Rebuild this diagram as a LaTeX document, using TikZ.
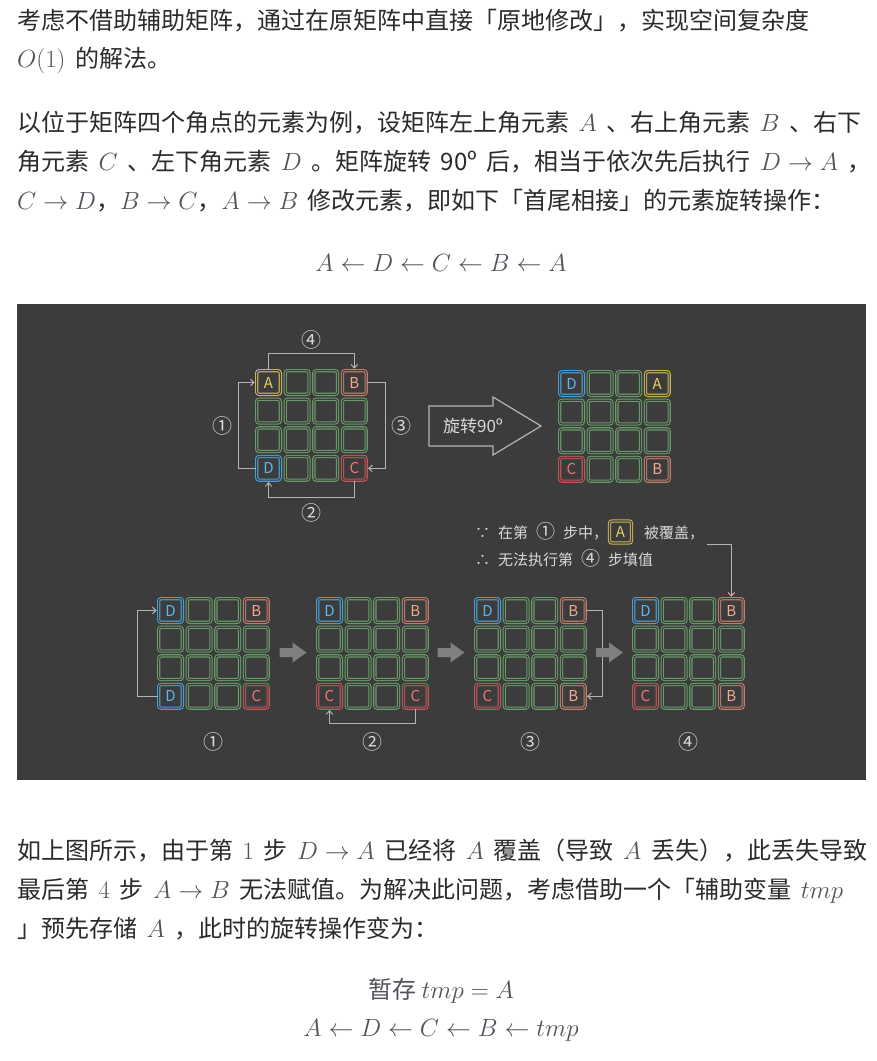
\documentclass[tikz,border=0pt]{standalone}
\usepackage[no-math]{fontspec}
\setmainfont{Noto Sans CJK SC}
\usetikzlibrary{arrows.meta}
\definecolor{panel}{HTML}{3C3C3C}
\definecolor{cgreen}{HTML}{6A9C6A}
\definecolor{cyel}{HTML}{C9B557}
\definecolor{tyel}{HTML}{E6D065}
\definecolor{cbb}{HTML}{C0806E}
\definecolor{tbb}{HTML}{F5A88E}
\definecolor{ccc}{HTML}{C35757}
\definecolor{tcc}{HTML}{F27474}
\definecolor{cdd}{HTML}{4A9ED0}
\definecolor{tdd}{HTML}{5DB8F0}
\definecolor{lcol}{HTML}{B4B4B4}
\definecolor{dtxt}{HTML}{D8D8D8}
\definecolor{garr}{HTML}{808080}
\definecolor{ptxt}{HTML}{2B2B2B}
\definecolor{mathc}{HTML}{52525C}
\newcommand\mth[1]{\textcolor{mathc}{$#1$}}
\newcommand\cnum[1]{{\fontsize{19}{19}\selectfont #1}}
\newcommand\pfont{\fontsize{24}{30}\selectfont\spaceskip 9.5pt\relax}
\newcommand\dfont{\fontsize{15}{15}\selectfont\spaceskip 8pt\relax}
\tikzset{
  cell/.style={draw=cgreen, double=panel, double distance=1.1pt, line width=1.1pt,
    fill=panel, rounded corners=2.5pt, minimum size=23.7pt, inner sep=0pt,
    font=\fontsize{15}{15}\selectfont},
  cellA/.style={draw=cyel, text=tyel},
  cellB/.style={draw=cbb, text=tbb},
  cellC/.style={draw=ccc, text=tcc},
  cellD/.style={draw=cdd, text=tdd},
  conn/.style={draw=lcol, line width=1pt, shorten >=1.4pt,
    -{Straight Barb[length=3.5pt,width=6.5pt]}},
  num/.style={text=dtxt, inner sep=0pt, font=\fontsize{20}{20}\selectfont},
  dtext/.style={text=dtxt, inner sep=0pt, anchor=base west, font=\dfont},
  ptext/.style={text=ptxt, inner sep=0pt, anchor=base west, font=\pfont},
  peq/.style={text=mathc, inner sep=0pt, anchor=base, font=\fontsize{24}{30}\selectfont},
  garrow/.style={fill=garr},
}
\newcommand\mygrid[7]{%
  \foreach \rr in {0,...,3}{\foreach \cc in {0,...,3}{%
    \pgfmathtruncatemacro\iscorner{and(or(\rr==0,\rr==3),or(\cc==0,\cc==3))}%
    \ifnum\iscorner=0
      \node[cell] (#1-\rr\cc) at ({#2+13.5+28.6*\cc},{#3+13.5+28.6*\rr}) {};
    \fi
  }}%
  \node[cell,cell#4] (#1-00) at ({#2+13.5},{#3+13.5}) {#4};
  \node[cell,cell#5] (#1-03) at ({#2+99.3},{#3+13.5}) {#5};
  \node[cell,cell#6] (#1-30) at ({#2+13.5},{#3+99.3}) {#6};
  \node[cell,cell#7] (#1-33) at ({#2+99.3},{#3+99.3}) {#7};
}
\newcommand\grayarrow[1]{%
  \fill[garrow] (#1,648) -- ({#1+13},648) -- ({#1+13},642.5) -- ({#1+27},652.5)
    -- ({#1+13},662.5) -- ({#1+13},657) -- (#1,657) -- cycle;}
\begin{document}
\begin{tikzpicture}[x=1pt,y=-1pt]
\useasboundingbox (0,0) rectangle (877,1061);
\fill[white] (0,0) rectangle (877,1061);

% ---- top text ----
\node[ptext] (l1) at (17,29) {考虑不借助辅助矩阵，通过在原矩阵中直接「原地修改」，实现空间复杂度};
\node[ptext] (l2) at (17,67) {\mth{O(1)} 的解法。};
\node[ptext] (l3) at (17,131) {以位于矩阵四个角点的元素为例，设矩阵左上角元素 \mth{A} 、右上角元素 \mth{B} 、右下};
\node[ptext] (l4) at (17,170) {角元素 \mth{C} 、左下角元素 \mth{D} 。矩阵旋转 90º 后，相当于依次先后执行 \mth{D \to A} ，};
\node[ptext] (l5) at (17,209) {\mth{C \to D}，\mth{B \to C}，\mth{A \to B} 修改元素，即如下「首尾相接」的元素旋转操作：};
\node[peq] (eq1) at (441,271.5) {$A \leftarrow D \leftarrow C \leftarrow B \leftarrow A$};

% ---- panel ----
\fill[panel] (17,304) rectangle (866,780);

% top-left grid
\mygrid{g0}{255}{369}{A}{B}{D}{C}
\draw[conn] (g0-00.north) -- ++(0,-16.5) -| (g0-03.north);
\draw[conn] (g0-30.west) -- ++(-17.5,0) |- (g0-00.west);
\draw[conn] (g0-03.east) -- ++(18.5,0) |- (g0-33.east);
\draw[conn] (g0-33.south) -- ++(0,17) -| (g0-30.south);
\node[num] (n4) at (311,340) {④};
\node[num] (n1) at (222,426) {①};
\node[num] (n3) at (401,426) {③};
\node[num] (n2) at (311,513) {②};

% big arrow
\draw[draw=lcol, line width=1.2pt, fill=panel, line join=miter]
  (429,406) -- (493,406) -- (493,397) -- (541,426) -- (493,455) -- (493,446) -- (429,446) -- cycle;
\node[text=dtxt, inner sep=0pt, font=\fontsize{17}{17}\selectfont] (rot) at (473,426) {旋转90º};

% top-right grid
\mygrid{g1}{558}{370}{D}{A}{C}{B}

% explanation
\node[dtext] (why) at (475,538) {∵ 在第 \cnum{①} 步中，};
\node[cell, cellA, minimum size=22pt] (abox) at (620.5,532) {A};
\node[dtext] (cov) at (644,538) {被覆盖，};
\node[dtext] (so) at (475,565) {∴ 无法执行第 \cnum{④} 步填值};

% bottom grids
\mygrid{b1}{157}{597}{D}{B}{D}{C}
\mygrid{b2}{316}{597}{D}{B}{C}{C}
\mygrid{b3}{474}{597}{D}{B}{C}{B}
\mygrid{b4}{632}{597}{D}{B}{C}{B}

\draw[conn] (b1-30.west) -- ++(-20.5,0) |- (b1-00.west);
\draw[conn] (b2-33.south) -- ++(0,15) -| (b2-30.south);
\draw[conn] (b3-03.east) -- ++(17,0) |- (b3-33.east);
\coordinate (b4in) at (707,544);
\draw[conn] (b4in) -| (b4-03.north);

\grayarrow{279.5}
\grayarrow{437.5}
\grayarrow{596}

\node[num] (s1) at (213.5,742) {①};
\node[num] (s2) at (372.5,742) {②};
\node[num] (s3) at (530.5,742) {③};
\node[num] (s4) at (688.5,742) {④};

% ---- bottom text ----
\node[ptext] (l6) at (17,859) {如上图所示，由于第 \mth{1} 步 \mth{D \to A} 已经将 \mth{A} 覆盖（导致 \mth{A} 丢失），此丢失导致};
\node[ptext] (l7) at (17,898) {最后第 \mth{4} 步 \mth{A \to B} 无法赋值。为解决此问题，考虑借助一个「辅助变量 \mth{tmp}};
\node[ptext] (l8) at (17,937) {」预先存储 \mth{A} ，此时的旋转操作变为：};
\node[peq] (eq2) at (441,998.5) {暂存 $tmp = A$};
\node[peq] (eq3) at (441,1036.5) {$A \leftarrow D \leftarrow C \leftarrow B \leftarrow tmp$};
\end{tikzpicture}
\end{document}
